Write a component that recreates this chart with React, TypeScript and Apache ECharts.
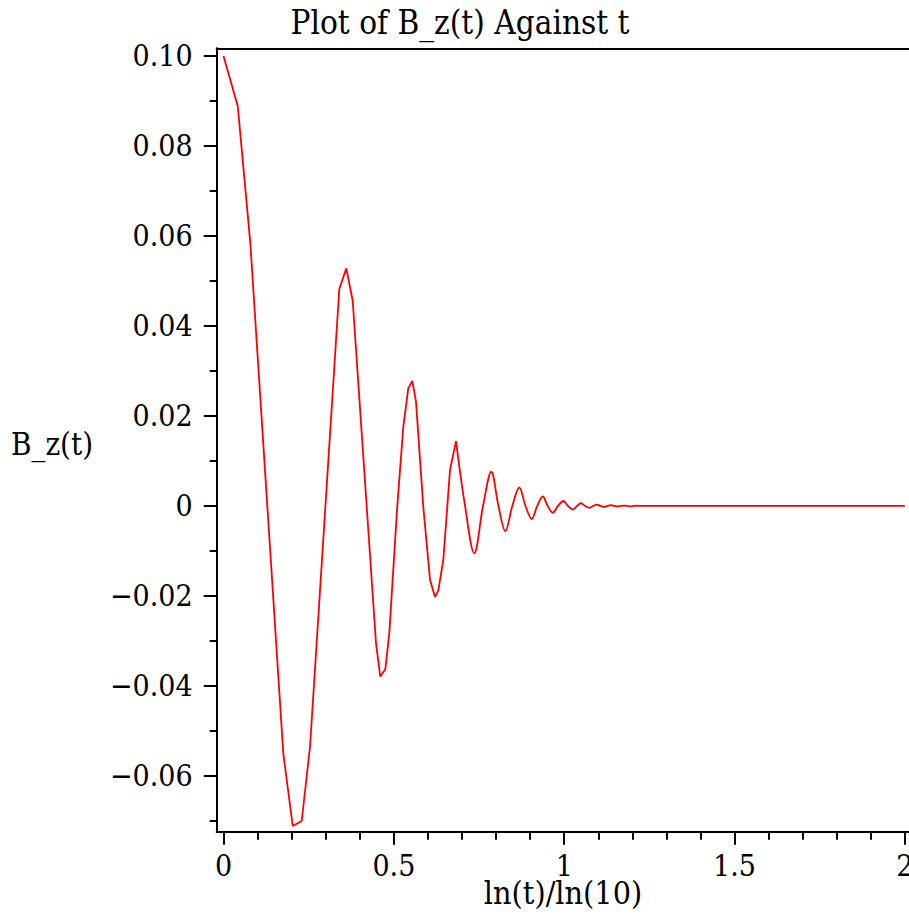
import React, { useEffect, useRef } from "react";
import * as echarts from "echarts";

// ---- data ----
const titleText = "Plot of B_z(t) Against t";
const xName = "ln(t)/ln(10)";
const yName = "B_z(t)";

// early part: coarse samples (piecewise linear)
const xEarly = [0, 0.0417, 0.0787, 0.1755, 0.2031, 0.2295, 0.2539, 0.3399, 0.3604, 0.3792, 0.4476, 0.4602, 0.4749, 0.4866, 0.5092, 0.5277, 0.5424, 0.5542, 0.565, 0.5864, 0.6061, 0.6208, 0.6305, 0.6451, 0.6648, 0.6824];
const yEarly = [0.1, 0.0889, 0.0584, -0.055, -0.0711, -0.07, -0.0535, 0.0482, 0.0528, 0.0456, -0.0305, -0.0379, -0.0363, -0.0283, -0.0009, 0.0176, 0.0262, 0.0278, 0.0232, -0.0002, -0.0164, -0.0202, -0.0188, -0.012, 0.008, 0.0144];

// later part: fine oscillations (extremes and crossings)
const xLate = [0.6824, 0.709, 0.7361, 0.7617, 0.786, 0.807, 0.8271, 0.8477, 0.8682, 0.8864, 0.9046, 0.9208, 0.9369, 0.9516, 0.9662, 0.9818, 0.9974, 1.0112, 1.025, 1.0376, 1.0493, 1.061, 1.0737, 1.085, 1.096, 1.107, 1.117, 1.127, 1.137, 1.147, 1.157, 1.167, 1.176, 1.185, 1.195, 1.205, 1.214, 1.223, 1.24, 1.5, 2.0];
const yLate = [0.0144, 0, -0.0105, 0, 0.0076, 0, -0.0056, 0, 0.0041, 0, -0.0029, 0, 0.0021, 0, -0.0015, 0, 0.0011, 0, -0.0008, 0, 0.0006, 0, -0.00043, 0, 0.00031, 0, -0.00022, 0, 0.00016, 0, -0.00012, 0, 0.00009, 0, -0.00007, 0, 0.00005, 0, 0, 0, 0];

const xMajorTicks = [0, 0.5, 1, 1.5, 2];
const xMinorTicks = [0.1, 0.2, 0.3, 0.4, 0.6, 0.7, 0.8, 0.9, 1.1, 1.2, 1.3, 1.4, 1.6, 1.7, 1.8, 1.9];
const yMajorTicks = [-0.06, -0.04, -0.02, 0, 0.02, 0.04, 0.06, 0.08, 0.1];
const yMinorTicks = [-0.07, -0.05, -0.03, -0.01, 0.01, 0.03, 0.05, 0.07, 0.09];

const X_MIN = -0.02;
const X_MAX = 2.012;
const Y_MIN = -0.07238;
const Y_MAX = 0.1017;

const FONT = '"DejaVu Serif Condensed", "DejaVu Serif", serif';

const fmtX = (v: number) => {
  if (Math.abs(v) < 1e-9) return "0";
  return String(Math.round(v * 10) / 10);
};
const fmtY = (v: number) => {
  if (Math.abs(v) < 1e-9) return "0";
  return (v < 0 ? "\u2212" : "") + Math.abs(v).toFixed(2);
};

export default function App() {
  const ref = useRef<HTMLDivElement>(null);
  useEffect(() => {
    const chart = echarts.init(ref.current!, null, { renderer: "svg" });
    const black = "#000";
    const option: any = {
      animation: false,
      backgroundColor: "#fff",
      grid: {
        left: 216.7,
        right: 0,
        top: 48.3,
        bottom: 87.3,
        containLabel: false,
        outerBoundsMode: "none",
      },
      xAxis: [
        {
          type: "value",
          min: X_MIN,
          max: X_MAX,
          position: "bottom",
          axisLine: { show: true, onZero: false, lineStyle: { color: black, width: 2 } },
          axisTick: { show: true, customValues: xMajorTicks, length: 13, lineStyle: { color: black, width: 2 } },
          axisLabel: {
            show: true,
            customValues: xMajorTicks,
            formatter: fmtX,
            margin: 19,
            color: black,
            fontSize: 30,
            fontFamily: FONT,
          },
          splitLine: { show: false },
        },
        {
          type: "value",
          min: X_MIN,
          max: X_MAX,
          position: "bottom",
          axisLine: { show: false, onZero: false },
          axisTick: { show: true, customValues: xMinorTicks, length: 8, lineStyle: { color: black, width: 2 } },
          axisLabel: { show: false },
          splitLine: { show: false },
        },
        {
          type: "value",
          min: X_MIN,
          max: X_MAX,
          position: "top",
          axisLine: { show: true, onZero: false, lineStyle: { color: black, width: 2 } },
          axisTick: { show: false },
          axisLabel: { show: false },
          splitLine: { show: false },
        },
      ],
      yAxis: [
        {
          type: "value",
          min: Y_MIN,
          max: Y_MAX,
          position: "left",
          axisLine: { show: true, onZero: false, lineStyle: { color: black, width: 2 } },
          axisTick: { show: true, customValues: yMajorTicks, length: 13, lineStyle: { color: black, width: 2 } },
          axisLabel: {
            show: true,
            customValues: yMajorTicks,
            formatter: fmtY,
            margin: 24,
            color: black,
            fontSize: 30,
            fontFamily: FONT,
          },
          splitLine: { show: false },
        },
        {
          type: "value",
          min: Y_MIN,
          max: Y_MAX,
          position: "left",
          axisLine: { show: false, onZero: false },
          axisTick: { show: true, customValues: yMinorTicks, length: 7, lineStyle: { color: black, width: 2 } },
          axisLabel: { show: false },
          splitLine: { show: false },
        },
      ],
      graphic: [
        {
          type: "text",
          x: 460,
          y: 22,
          style: { text: titleText, fontSize: 33, fontFamily: FONT, fill: black, align: "center", verticalAlign: "middle" },
        },
        {
          type: "text",
          x: 563,
          y: 893,
          style: { text: xName, fontSize: 32, fontFamily: FONT, fill: black, align: "center", verticalAlign: "middle" },
        },
        {
          type: "text",
          x: 52,
          y: 444,
          style: { text: yName, fontSize: 31, fontFamily: FONT, fill: black, align: "center", verticalAlign: "middle" },
        },
      ],
      series: [
        {
          type: "line",
          xAxisIndex: 0,
          yAxisIndex: 0,
          data: xEarly.map((x, i) => [x, yEarly[i]]),
          showSymbol: false,
          symbol: "none",
          lineStyle: { color: "#ff0000", width: 1.8 },
          silent: true,
        },
        {
          type: "line",
          xAxisIndex: 0,
          yAxisIndex: 0,
          data: xLate.map((x, i) => [x, yLate[i]]),
          showSymbol: false,
          symbol: "none",
          smooth: 0.35,
          lineStyle: { color: "#ff0000", width: 1.8 },
          silent: true,
        },
      ],
    };
    chart.setOption(option);
    return () => chart.dispose();
  }, []);
  return (
    <div
      ref={ref}
      style={{ position: "fixed", left: 0, top: 0, width: 909, height: 919, background: "#fff" }}
    />
  );
}
